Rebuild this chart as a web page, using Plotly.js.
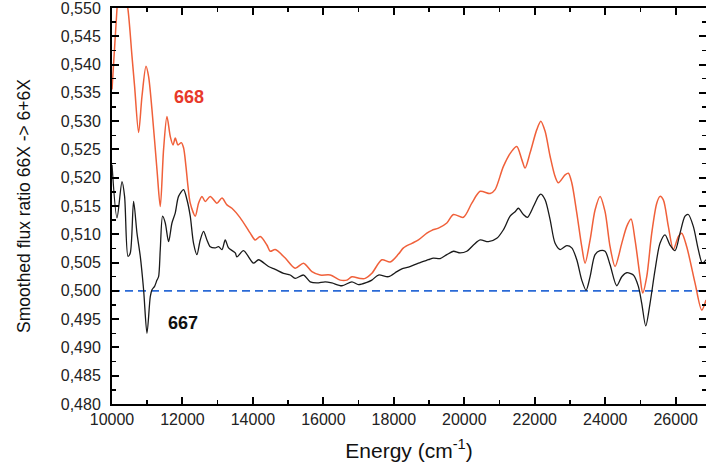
<!DOCTYPE html>
<html><head><meta charset="utf-8">
<script src="https://cdn.plot.ly/plotly-3.0.1.min.js"></script>
<style>html,body{margin:0;padding:0;background:#fff}#plot{width:706px;height:470px}</style>
</head><body><div id="plot"></div>
<script>
// Sample 668 (red)
const energy668 = [10000,10142,10221,10300,10454,10567,10641,10755,10851,10965,11038,11135,11277,11370,11464,11560,11654,11731,11796,11872,11966,12031,12099,12156,12221,12363,12457,12553,12647,12789,12979,13121,13263,13404,13640,13924,14065,14207,14397,14491,14633,14917,15200,15436,15674,15910,16193,16477,16667,16809,17044,17186,17376,17660,17895,18131,18273,18511,18698,18937,19078,19266,19504,19691,19975,20213,20449,20733,20874,21110,21348,21490,21632,21725,21867,22057,22171,22293,22435,22577,22670,22860,22954,23050,23192,23334,23428,23570,23711,23853,23995,24137,24279,24469,24611,24733,24846,24988,25064,25178,25320,25462,25555,25649,25791,25933,26075,26171,26313,26548,26738,26860];
const ratio668 = [0.5356,0.5499,0.5560,0.5555,0.5497,0.5415,0.5362,0.5280,0.5344,0.5397,0.5379,0.5320,0.5214,0.5149,0.5250,0.5308,0.5273,0.5258,0.5270,0.5258,0.5262,0.5253,0.5220,0.5185,0.5155,0.5132,0.5155,0.5167,0.5158,0.5167,0.5155,0.5164,0.5152,0.5146,0.5129,0.5102,0.5090,0.5096,0.5081,0.5070,0.5073,0.5058,0.5040,0.5049,0.5034,0.5028,0.5028,0.5019,0.5019,0.5025,0.5022,0.5022,0.5031,0.5055,0.5051,0.5065,0.5076,0.5084,0.5090,0.5102,0.5107,0.5111,0.5120,0.5135,0.5130,0.5155,0.5176,0.5172,0.5179,0.5220,0.5247,0.5255,0.5232,0.5217,0.5244,0.5285,0.5300,0.5282,0.5238,0.5202,0.5191,0.5205,0.5208,0.5191,0.5138,0.5078,0.5049,0.5090,0.5143,0.5167,0.5140,0.5078,0.5043,0.5084,0.5114,0.5127,0.5090,0.5025,0.4996,0.5025,0.5102,0.5155,0.5167,0.5161,0.5114,0.5073,0.5096,0.5102,0.5078,0.5014,0.4966,0.4984];

// Sample 667 (black)
const energy667 = [10000,10142,10284,10357,10454,10519,10613,10709,10803,10897,10993,11087,11135,11209,11277,11322,11370,11436,11512,11606,11702,11796,11889,12031,12128,12221,12315,12411,12505,12599,12695,12789,12931,13024,13121,13214,13308,13498,13546,13733,14017,14159,14443,14633,14868,15058,15200,15436,15626,15816,16051,16241,16525,16809,16996,17234,17376,17563,17847,18085,18227,18415,18698,18982,19124,19314,19504,19691,19881,20071,20259,20449,20684,20922,21110,21300,21442,21535,21677,21791,21961,22103,22171,22293,22435,22577,22719,22908,23050,23192,23334,23456,23570,23711,23853,23995,24137,24327,24469,24611,24798,24940,25036,25150,25272,25414,25555,25697,25839,25981,26123,26265,26358,26500,26642,26756,26860];
const ratio667 = [0.5223,0.5129,0.5193,0.5167,0.5061,0.5067,0.5158,0.5102,0.5061,0.5002,0.4925,0.4990,0.5002,0.5008,0.5019,0.5025,0.5073,0.5132,0.5120,0.5087,0.5120,0.5138,0.5167,0.5179,0.5161,0.5132,0.5084,0.5064,0.5090,0.5105,0.5090,0.5078,0.5076,0.5078,0.5073,0.5090,0.5076,0.5067,0.5060,0.5071,0.5049,0.5055,0.5043,0.5038,0.5031,0.5028,0.5022,0.5028,0.5016,0.5014,0.5016,0.5014,0.5009,0.5016,0.5011,0.5015,0.5019,0.5028,0.5025,0.5034,0.5039,0.5042,0.5049,0.5055,0.5058,0.5057,0.5064,0.5070,0.5067,0.5070,0.5081,0.5090,0.5087,0.5093,0.5108,0.5132,0.5140,0.5146,0.5135,0.5130,0.5149,0.5167,0.5171,0.5161,0.5126,0.5084,0.5073,0.5080,0.5076,0.5055,0.5019,0.5001,0.5025,0.5064,0.5071,0.5070,0.5046,0.5009,0.5025,0.5032,0.5028,0.5008,0.4978,0.4938,0.4978,0.5037,0.5084,0.5099,0.5081,0.5071,0.5102,0.5132,0.5135,0.5114,0.5073,0.5049,0.5055];

const refLevel = 0.5;
const xRange = [10000, 26860];
const yRange = [0.48, 0.5500001];
const xTickVals = [10000,12000,14000,16000,18000,20000,22000,24000,26000];
const xTickText = ['10000','12000','14000','16000','18000','20000','22000','24000','26000'];
const yTickVals = [0.480,0.485,0.490,0.495,0.500,0.505,0.510,0.515,0.520,0.525,0.530,0.535,0.540,0.545,0.550];
const yTickText = ['0,480','0,485','0,490','0,495','0,500','0,505','0,510','0,515','0,520','0,525','0,530','0,535','0,540','0,545','0,550'];
const labels = [{text:'668', x:12190, y:0.5342, color:'#e8392a'},{text:'667', x:12010, y:0.4944, color:'#111111'}];

const traces = [
  {x: xRange, y: [refLevel, refLevel], mode:'lines', line:{color:'#2a6ad6', width:1.6, dash:'8px,5px'}, hoverinfo:'skip'},
  {x: energy668, y: ratio668, mode:'lines', line:{color:'#f0603a', width:1.5, shape:'spline', smoothing:0.8}},
  {x: energy667, y: ratio667, mode:'lines', line:{color:'#1a1a1a', width:1.3, shape:'spline', smoothing:0.8}}
];

const fontFam = '"Liberation Sans", Arial, sans-serif';
const layout = {
  width:706, height:470,
  margin:{l:112, r:0, t:8, b:66},
  showlegend:false,
  paper_bgcolor:'#fff', plot_bgcolor:'#fff',
  font:{family:fontFam, size:16, color:'#222'},
  xaxis:{range:xRange, tickmode:'array', tickvals:xTickVals, ticktext:xTickText,
    ticks:'inside', ticklen:7, tickwidth:2, tickcolor:'#000',
    minor:{dtick:1000, tick0:10000, ticks:'inside', ticklen:4, tickwidth:1.5, tickcolor:'#000', showgrid:false},
    showline:true, linecolor:'#000', linewidth:2, mirror:'ticks', showgrid:false, zeroline:false,
    tickfont:{size:16, color:'#222'}, ticklabeloverflow:'allow',
    title:{text:'Energy (cm<sup>-1</sup>)', font:{size:21, color:'#111'}, standoff:16}},
  yaxis:{range:yRange, tickmode:'array', tickvals:yTickVals, ticktext:yTickText,
    ticks:'inside', ticklen:7, tickwidth:2, tickcolor:'#000',
    minor:{dtick:0.0025, tick0:0.48, ticks:'inside', ticklen:4, tickwidth:1.5, tickcolor:'#000', showgrid:false},
    showline:true, linecolor:'#000', linewidth:2, mirror:'ticks', showgrid:false, zeroline:false,
    tickfont:{size:16, color:'#222'}, ticklabelstandoff:6, ticklabeloverflow:'allow',
    title:{text:'Smoothed flux ratio 66X -> 6+6X', font:{size:17.5, color:'#111'}, standoff:26}},
  annotations: labels.map(l => ({x:l.x, y:l.y, xref:'x', yref:'y', text:'<b>'+l.text+'</b>', showarrow:false, font:{size:18, color:l.color, family:fontFam}}))
};
Plotly.newPlot('plot', traces, layout, {displayModeBar:false, staticPlot:true});
</script></body></html>
